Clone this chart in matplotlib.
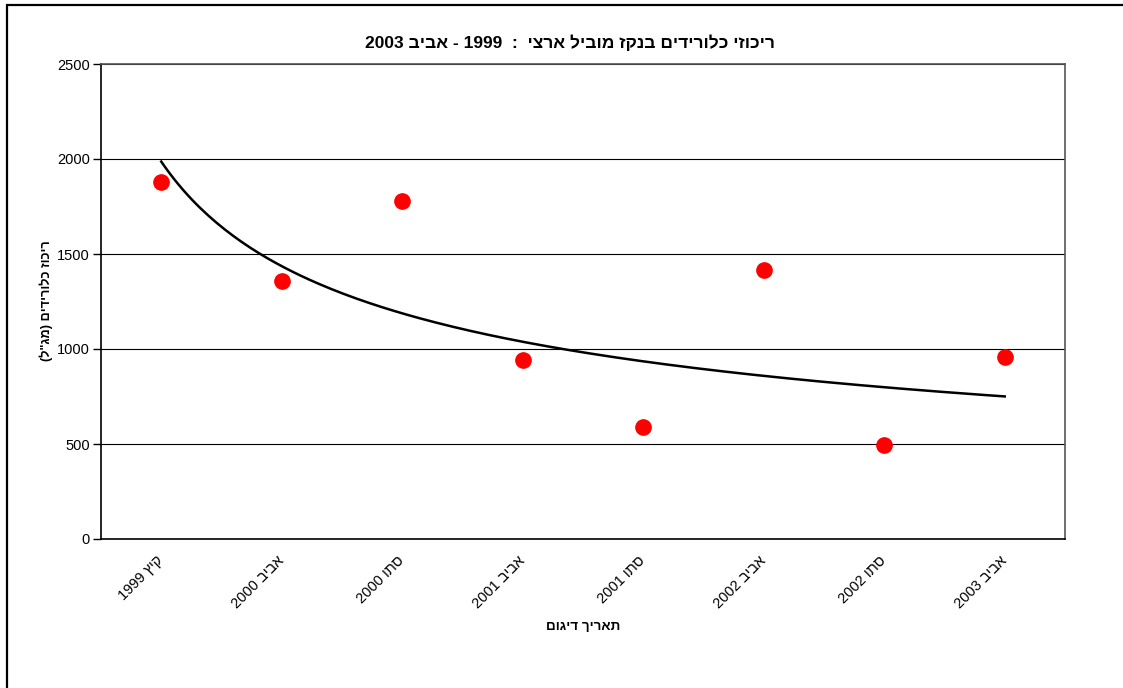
import re
import numpy as np
import matplotlib
matplotlib.use("Agg")
from matplotlib import pyplot as plt
from matplotlib.patches import Rectangle

plt.rcParams['font.family'] = ['Liberation Sans', 'DejaVu Sans']

title = 'ריכוזי כלורידים בנקז מוביל ארצי  :  1999 - אביב 2003'
ylabel = 'ריכוז כלורידים (מג"ל)'
xlabel = 'תאריך דיגום'
dates = ['קיץ 1999', 'אביב 2000', 'סתו 2000', 'אביב 2001',
         'סתו 2001', 'אביב 2002', 'סתו 2002', 'אביב 2003']
chloride = [1880, 1358, 1779, 942, 589, 1416, 495, 958]


def visual(s):
	# matplotlib has no bidi: put the right-to-left text into display order
	runs = re.findall(r'[0-9A-Za-z]+|[^0-9A-Za-z]+', s)
	out = []
	for r in reversed(runs):
		if r[0].isascii() and r[0].isalnum():
			out.append(r)
		else:
			out.append(r[::-1].translate(str.maketrans('()', ')(')))
	return ''.join(out)


x = np.arange(1, len(dates) + 1)
y = np.array(chloride, dtype=float)

# power trend line, as excel does it: straight fit of log y on log x
b, ln_a = np.polyfit(np.log(x), np.log(y), 1)
xs = np.linspace(1, len(dates), 200)
ys = np.exp(ln_a) * xs ** b

fig = plt.figure(figsize=(11.23, 6.88), dpi=100)
ax = fig.add_axes([101/1123, 1 - 539/688, 964/1123, 475/688])

ax.plot(xs, ys, color='black', lw=1.8, zorder=3)
ax.plot(x, y, 'o', color='#ff0000', ms=11, zorder=4)

ax.set_xlim(0.5, len(dates) + 0.5)
ax.set_ylim(0, 2500)
ax.set_yticks(np.arange(0, 2501, 500))
ax.yaxis.grid(True, color='black', lw=0.8)
ax.set_axisbelow(True)

ax.set_xticks(x)
ax.set_xticklabels([visual(d) for d in dates], rotation=45, ha='right',
                   va='center', rotation_mode='anchor', fontsize=10.5)
ax.tick_params(axis='x', length=0, pad=14)
ax.tick_params(axis='y', length=6, width=1, direction='out', labelsize=10.5, pad=2)

for side in ['top', 'right']:
	ax.spines[side].set_color('#555555')
	ax.spines[side].set_linewidth(1.2)
for side in ['left', 'bottom']:
	ax.spines[side].set_color('black')
	ax.spines[side].set_linewidth(1.2)

fig.text(570/1123, 1 - 43/688, visual(title), ha='center', va='center',
         fontsize=12.5, fontweight='bold')
fig.text(583/1123, 1 - 627/688, visual(xlabel), ha='center', va='center',
         fontsize=9.7, fontweight='bold')
fig.text(46/1123, 1 - 301/688, visual(ylabel), ha='center', va='center',
         rotation=90, fontsize=9.2, fontweight='bold')

# outer chart border
fig.patches.append(Rectangle((7/1123, -0.05), 1.2, 1 - 5.5/688 + 0.05,
                             transform=fig.transFigure, fill=False,
                             edgecolor='black', lw=1.6))

fig.savefig('out.png', dpi=100)
